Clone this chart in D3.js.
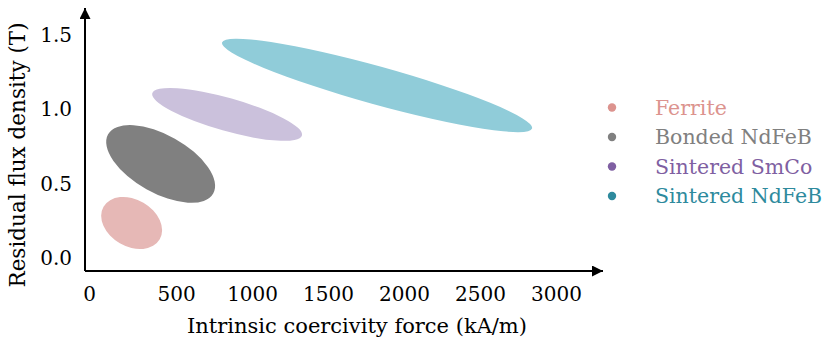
<!DOCTYPE html>
<html>
<head>
<meta charset="utf-8">
<script src="https://cdn.jsdelivr.net/npm/d3@7"></script>
<style>
  body { margin: 0; background: #fff; }
  text { font-family: "DejaVu Serif", serif; }
</style>
</head>
<body>
<svg id="chart" width="823" height="340"></svg>
<script>
// magnet families: major axis end points (kA/m, T) + half width of ellipse
const materials = ["Ferrite", "Bonded NdFeB", "Sintered SmCo", "Sintered NdFeB"];
const hcStart = [22, 52, 343, 802];
const brStart = [0.345, 0.831, 1.107, 1.449];
const hcEnd = [392, 744, 1328, 2843];
const brEnd = [0.126, 0.434, 0.823, 0.871];
const fillColors = ["#e6b8b6", "#808080", "#cbc1dc", "#90ccd9"];
const dotColors = ["#dc938e", "#808080", "#7f5fa2", "#2e8a9d"];
const minorPx = [23.5, 29, 16.5, 19];

const xTicks = [0, 500, 1000, 1500, 2000, 2500, 3000];
const yTicks = [0, 0.5, 1.0, 1.5];

const svg = d3.select("#chart");
const x = d3.scaleLinear().domain([-100, 3310]).range([85, 603]);
const y = d3.scaleLinear().domain([-0.087, 1.68]).range([271, 8]);

// ellipses
const data = materials.map((name, i) => {
  const x1 = x(hcStart[i]), y1 = y(brStart[i]);
  const x2 = x(hcEnd[i]), y2 = y(brEnd[i]);
  return {
    name,
    cx: (x1 + x2) / 2,
    cy: (y1 + y2) / 2,
    rx: Math.hypot(x2 - x1, y2 - y1) / 2,
    ry: minorPx[i],
    angle: Math.atan2(y2 - y1, x2 - x1) * 180 / Math.PI,
    fill: fillColors[i],
    dot: dotColors[i]
  };
});

svg.append("g")
  .selectAll("ellipse")
  .data(data)
  .join("ellipse")
  .attr("cx", 0)
  .attr("cy", 0)
  .attr("rx", (d) => d.rx)
  .attr("ry", (d) => d.ry)
  .attr("transform", (d) => `translate(${d.cx},${d.cy}) rotate(${d.angle})`)
  .attr("fill", (d) => d.fill);

// axes with arrow heads
svg.append("defs").append("marker")
  .attr("id", "arrow")
  .attr("viewBox", "0 0 10 10")
  .attr("refX", 10)
  .attr("refY", 5)
  .attr("markerWidth", 6)
  .attr("markerHeight", 5.5)
  .attr("markerUnits", "strokeWidth")
  .attr("orient", "auto")
  .append("path")
  .attr("d", "M0,0L10,5L0,10Z")
  .attr("fill", "#000");

svg.append("line")
  .attr("x1", x.range()[0]).attr("x2", x.range()[1])
  .attr("y1", y.range()[0]).attr("y2", y.range()[0])
  .attr("stroke", "#000").attr("stroke-width", 2)
  .attr("marker-end", "url(#arrow)");
svg.append("line")
  .attr("x1", x.range()[0]).attr("x2", x.range()[0])
  .attr("y1", y.range()[0]).attr("y2", y.range()[1])
  .attr("stroke", "#000").attr("stroke-width", 2)
  .attr("marker-end", "url(#arrow)");

const xAxis = svg.append("g")
  .attr("transform", `translate(0,${y.range()[0]})`)
  .call(d3.axisBottom(x).tickValues(xTicks).tickFormat(d3.format("d")).tickSize(0).tickPadding(16));
xAxis.select(".domain").remove();
xAxis.selectAll("text")
  .attr("font-size", 20)
  .attr("font-family", "DejaVu Serif")
  .attr("fill", "#000")
  .attr("dx", (d) => (d === 0 ? -11 : 0));

const yAxis = svg.append("g")
  .attr("transform", `translate(${x.range()[0]},0)`)
  .call(d3.axisLeft(y).tickValues(yTicks).tickFormat(d3.format(".1f")).tickSize(0).tickPadding(13));
yAxis.select(".domain").remove();
yAxis.selectAll("text")
  .attr("font-size", 20)
  .attr("font-family", "DejaVu Serif")
  .attr("fill", "#000");

// axis titles
svg.append("text")
  .attr("x", 357)
  .attr("y", 333)
  .attr("text-anchor", "middle")
  .attr("font-size", 21)
  .text("Intrinsic coercivity force (kA/m)");
svg.append("text")
  .attr("transform", "translate(25,155) rotate(-90)")
  .attr("text-anchor", "middle")
  .attr("font-size", 21.5)
  .text("Residual flux density (T)");

// legend
const legend = svg.append("g")
  .selectAll("g")
  .data(data)
  .join("g")
  .attr("transform", (d, i) => `translate(612,${107.5 + i * 29.5})`);
legend.append("circle")
  .attr("r", 4.2)
  .attr("fill", (d) => d.dot);
legend.append("text")
  .attr("x", 43)
  .attr("dy", "0.35em")
  .attr("font-size", 20.5)
  .attr("fill", (d) => d.dot)
  .text((d) => d.name);
</script>
</body>
</html>
